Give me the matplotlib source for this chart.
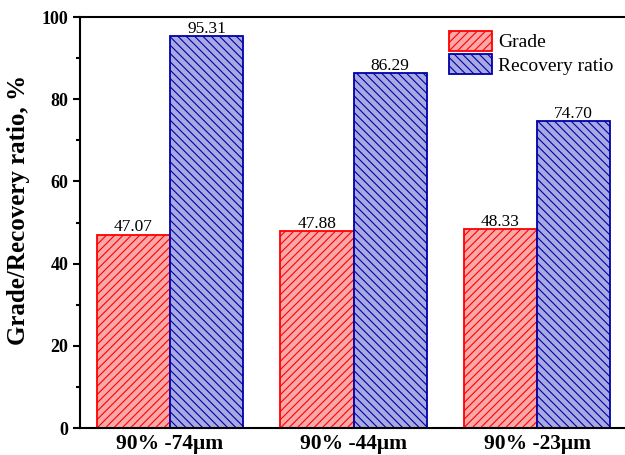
import numpy as np
import matplotlib
matplotlib.use("Agg")
import matplotlib.pyplot as plt

categories = ['90% -74\u03bcm', '90% -44\u03bcm', '90% -23\u03bcm']
grade = [47.07, 47.88, 48.33]
recovery = [95.31, 86.29, 74.70]

plt.rcParams['font.family'] = ['Liberation Serif', 'DejaVu Serif']
plt.rcParams['hatch.linewidth'] = 0.8

fig = plt.figure(figsize=(6.25, 4.55), dpi=100)
ax = fig.add_axes([0.128, 0.0593, 0.8752, 0.9033])

x = np.arange(len(categories))
w = 0.4
ax.bar(x - w / 2, grade, w, color='#F9A7A7', edgecolor='#FF0000',
       hatch='////', linewidth=1.3, label='Grade')
ax.bar(x + w / 2, recovery, w, color='#A7A9E0', edgecolor='#0000A8',
       hatch='\\\\\\\\', linewidth=1.3, label='Recovery ratio')

# value labels on top of bars
for xi, v in zip(x - w / 2, grade):
    ax.text(xi, v + 0.8, f'{v:.2f}', ha='center', va='baseline', fontsize=12.5)
for xi, v in zip(x + w / 2, recovery):
    ax.text(xi, v + 0.8, f'{v:.2f}', ha='center', va='baseline', fontsize=12.5)

ax.set_xlim(-0.49, 2.49)
ax.set_ylim(0, 100)
ax.set_xticks(x)
ax.set_xticklabels(categories, fontsize=15.5, fontweight='bold')
ax.set_yticks(np.arange(0, 101, 20))
ax.set_yticks(np.arange(10, 100, 20), minor=True)
for lab in ax.get_yticklabels():
    lab.set_fontweight('bold')
    lab.set_fontsize(13)
ax.tick_params(axis='y', which='major', direction='out', length=5, width=1.5)
ax.tick_params(axis='y', which='minor', direction='out', length=3, width=1.5)
ax.tick_params(axis='x', length=0, pad=4)
ax.set_ylabel('Grade/Recovery ratio, %', fontsize=18, fontweight='bold', labelpad=8)
ax.yaxis.label.set_y(0.53)

for s in ['left', 'bottom', 'top']:
    ax.spines[s].set_linewidth(1.5)
ax.spines['right'].set_visible(False)

ax.legend(loc='upper left', bbox_to_anchor=(0.718, 0.932), bbox_transform=fig.transFigure,
          frameon=False, fontsize=14, handlelength=2.2, handleheight=1.2,
          labelspacing=0.15, borderpad=0, borderaxespad=0, handletextpad=0.35)

fig.savefig('out.png', dpi=100)
